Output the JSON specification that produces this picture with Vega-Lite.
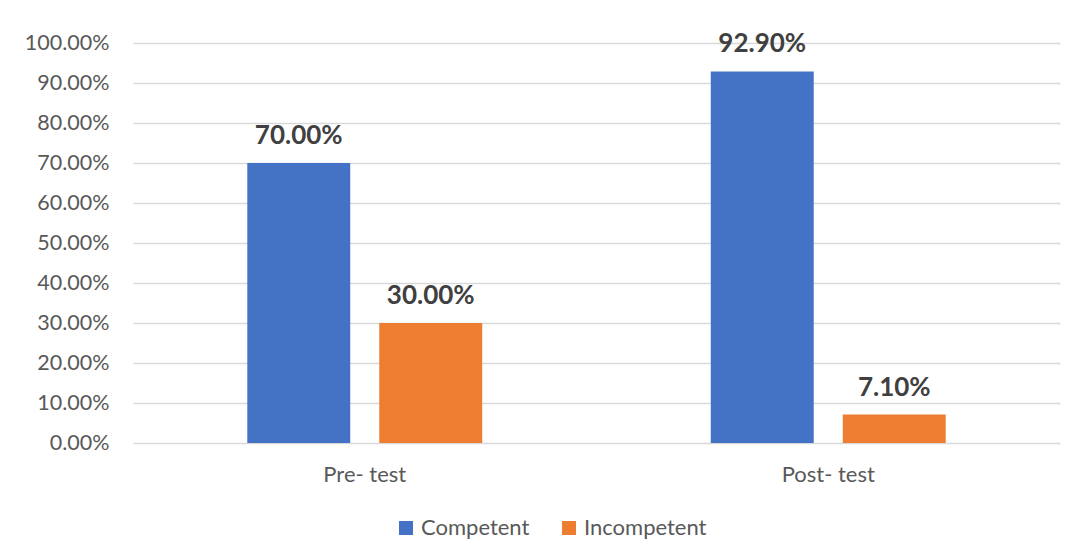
{
  "$schema": "https://vega.github.io/schema/vega-lite/v6.json",
  "width": 927,
  "height": 400,
  "autosize": {"type": "none"},
  "padding": {"left": 133, "top": 43, "right": 15, "bottom": 114},
  "background": "white",
  "config": {
    "font": "Lato",
    "view": {"stroke": null},
    "axis": {"labelFont": "Lato", "labelColor": "#595959"}
  },
  "data": {
    "values": [
      {"test": "Pre- test", "series": "Competent", "value": 0.70},
      {"test": "Pre- test", "series": "Incompetent", "value": 0.30},
      {"test": "Post- test", "series": "Competent", "value": 0.929},
      {"test": "Post- test", "series": "Incompetent", "value": 0.071}
    ]
  },
  "encoding": {
    "x": {
      "field": "test", "type": "nominal", "sort": ["Pre- test", "Post- test"],
      "scale": {"paddingInner": 0, "paddingOuter": 0},
      "axis": {"title": null, "labelAngle": 0, "domain": false, "ticks": false, "labelFontSize": 22, "labelPadding": 21}
    },
    "xOffset": {
      "field": "series", "type": "nominal", "sort": ["Competent", "Incompetent"],
      "scale": {"paddingInner": 0.22, "paddingOuter": 0.866}
    },
    "y": {
      "field": "value", "type": "quantitative",
      "scale": {"domain": [0, 1], "nice": false},
      "axis": {"title": null, "format": ".2%", "values": [0, 0.1, 0.2, 0.3, 0.4, 0.5, 0.6, 0.7, 0.8, 0.9, 1.0], "domain": false, "ticks": false, "labelFontSize": 21.5, "labelPadding": 24, "gridColor": "#d9d9d9", "gridWidth": 1.5}
    }
  },
  "layer": [
    {
      "mark": {"type": "bar"},
      "encoding": {
        "color": {
          "field": "series", "type": "nominal", "sort": ["Competent", "Incompetent"],
          "scale": {"domain": ["Competent", "Incompetent"], "range": ["#4472C4", "#ED7D31"]},
          "legend": {
            "title": null, "orient": "none", "direction": "horizontal",
            "legendX": 262, "legendY": 474,
            "symbolType": "square", "symbolSize": 196, "symbolStrokeWidth": 0,
            "labelFont": "Lato", "labelFontSize": 22, "labelColor": "#595959",
            "columnPadding": 28, "symbolOffset": 0, "labelOffset": 4
          }
        }
      }
    },
    {
      "mark": {"type": "text", "baseline": "alphabetic", "dy": -19, "fontSize": 26, "fontWeight": "bold", "color": "#404040", "font": "Lato"},
      "encoding": {
        "text": {"field": "value", "type": "quantitative", "format": ".2%"}
      }
    }
  ]
}
